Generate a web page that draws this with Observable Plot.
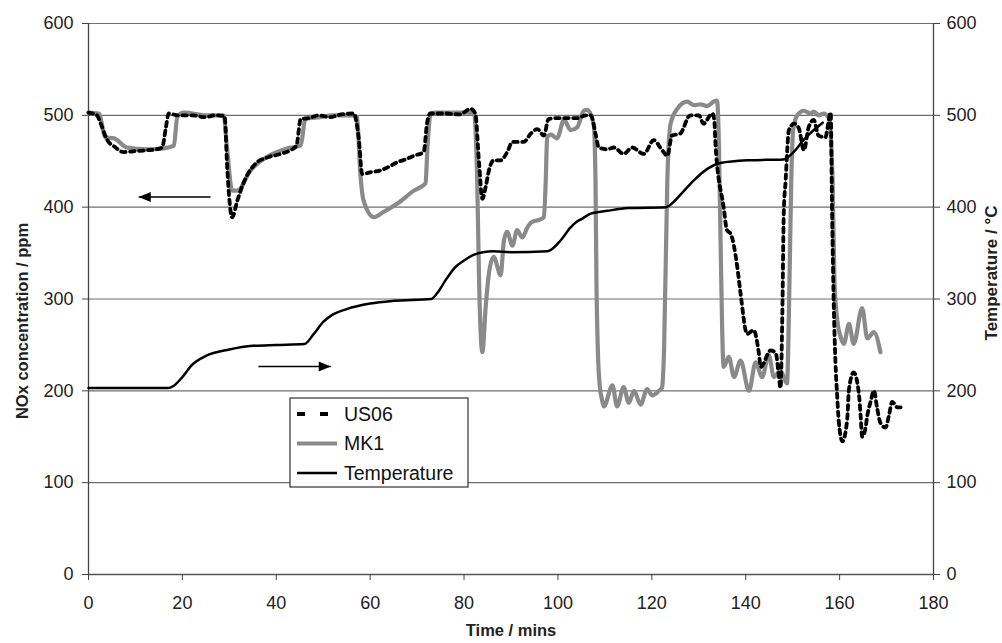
<!DOCTYPE html>
<html><head><meta charset="utf-8">
<script src="https://cdn.jsdelivr.net/npm/d3@7"></script>
<script src="https://cdn.jsdelivr.net/npm/@observablehq/plot@0.6"></script>
<style>
body{margin:0;background:#fff;}
#chart{position:relative;width:1002px;height:643px;}
</style>
</head><body><div id="chart"></div>
<script>
// ---- tick labels ----
const xTicks = [0,20,40,60,80,100,120,140,160,180];
const yTicks = [0,100,200,300,400,500,600];
const seriesNames = ["US06","MK1","Temperature"];
const axisTitles = {x: "Time / mins", yLeft: "NOx concentration / ppm", yRight: "Temperature / °C"};

// ---- US06 (NOx, ppm) ----
const us06Time = [0,1.8,2.6,4.0,5.5,7.5,10,12.5,14.5,15.7,16.4,17.1,19,22,25,27,29,29.5,29.9,30.6,31.7,33,35.7,38,40.9,43,44.3,45.2,47,49,51.6,53,56.5,57.6,58.3,60,62.2,64,65.8,67.5,69.3,71.4,72.1,72.8,76,79,81.4,82.4,83.2,83.9,84.6,85.3,86.3,87.8,89.2,90.3,92.7,94.2,95.6,97,98,100,104,106,107,108,108.7,110.5,111.9,114,115.8,118.3,120.4,122.2,123.3,124.3,126,128.2,130,131,132.9,133.3,133.6,135.3,136,136.8,138.2,138.9,140.3,141.7,142.8,143.2,145.3,146.4,147,147.4,147.8,148.1,148.5,149.2,150.3,151.3,152.4,153.4,154.5,155.5,157,157.4,158.1,158.4,158.8,159.1,159.5,159.8,160.6,161.6,162,163,163.8,164.2,164.5,164.8,165.5,165.9,166.6,167.3,168,168.7,169.8,170.5,171.2,172.3,173];
const us06NOx  = [503,500,491,473,466,460,461,462,463,465,484,502,500,500,498,500,499,448,415,389,407,426,448,454,458,462,467,496,497,500,498,500,502,473,436,438,440,444,449,452,456,460,491,502,502,501,507,502,448,409,422,440,451,451,460,471,471,480,485,478,496,497,497,500,500,480,465,463,465,458,465,458,473,462,456,478,480,500,500,491,502,495,465,400,375,371,335,306,262,266,241,226,244,241,219,203,284,393,429,484,491,486,462,487,495,478,476,486,503,393,284,233,193,168,145,168,202,220,208,192,171,150,159,173,188,200,181,165,160,173,188,182,182];

// ---- MK1 (NOx, ppm) ----
const mk1Time = [0,2.2,3.6,5.4,8.2,12.5,16,18.2,18.9,20.3,25.3,28.8,29.5,30.6,31.7,34.5,38.1,42.3,45.2,46.2,49.4,52,56.5,57.2,57.9,58.6,60.8,62.9,65.8,69.3,71.8,72.2,72.9,74,82.1,82.8,83.2,83.9,84.6,85.3,86.3,87.8,88.5,89.2,90.3,91.3,92.4,93.5,94.5,95.9,97,97.4,97.7,98.5,99.8,101.3,102.7,104.1,105.5,106.2,107.6,108,108.2,108.5,108.9,109.4,109.8,111.6,112.6,114,115.1,116.2,117.6,119,120.1,121.5,122.2,122.6,123.3,124,125.4,127.5,129,130.4,131.8,133.2,133.9,134.3,134.6,135.3,136.4,137.5,138.9,140.7,142.1,143.5,144.9,146,147.4,148.8,149.2,149.7,150.1,151,152.4,153.8,154.5,155.6,156.6,157.7,158.5,158.9,159.5,160.2,160.9,162,163,164.8,165.9,167.3,168.7];
const mk1NOx  = [503,502,476,475,465,463,464,467,498,503,500,500,465,418,418,440,455,464,467,496,498,500,500,498,437,407,389,395,404,418,426,465,502,503,503,429,320,242,291,328,346,326,364,373,358,375,367,378,384,386,389,429,476,479,475,495,484,487,505,506,491,429,320,244,206,190,183,206,183,204,187,200,185,202,195,200,204,244,429,491,507,515,511,512,510,515,516,465,375,226,237,215,233,200,231,215,239,215,222,208,284,429,484,500,505,502,504,500,502,497,429,320,277,259,251,273,251,290,257,264,242];

// ---- Temperature (°C) ----
const tempTime = [0,17,18,20,22,25,30,35,40,46,48,50,52,55,60,65,73,74.5,76,78,80,82,84,86.3,90,97.8,100.6,102.7,104,105,107,110.5,115,123,124.5,126,128.9,131.9,134.6,140.4,148,150.2,152.3,154.5,156.4];
const tempC    = [203,203,205,215,228,238,245,249,250,251,262,275,283,289,295,298,300,308,320,334,342,348,351,352,351,352,364,378,384,387,393,396,399,400,405,413,429,442,448,451,452,460,473,484,492];

// ---- direction arrows (data units) ----
const arrowFromT = [26, 36.2];
const arrowToT   = [10.7, 51.6];
const arrowLevel = [411, 226.6];

const rows = (ts, vs) => ts.map((t, i) => ({t, v: vs[i]}));
const us06 = rows(us06Time, us06NOx);
const mk1 = rows(mk1Time, mk1NOx);
const temp = rows(tempTime, tempC);
const arrows = arrowFromT.map((a, i) => ({x1: a, x2: arrowToT[i], y: arrowLevel[i], dir: arrowToT[i] < a ? "left" : "right"}));

const headLeft = {draw(c){ c.moveTo(0,0); c.lineTo(12,-5); c.lineTo(12,5); c.closePath(); }};
const headRight = {draw(c){ c.moveTo(0,0); c.lineTo(-12,-5); c.lineTo(-12,5); c.closePath(); }};

const font = "'Liberation Sans', Arial, sans-serif";
const plot = Plot.plot({
  width: 1002, height: 643,
  marginLeft: 88, marginRight: 69, marginTop: 23, marginBottom: 69,
  x: {domain: [0, 180]},
  y: {domain: [0, 600]},
  style: {fontFamily: font, fontSize: "18px", color: "#222", background: "#fff"},
  marks: [
    Plot.ruleY(yTicks.filter(d => d > 0), {stroke: "#6e6e6e", strokeWidth: 1.2}),
    Plot.ruleY([0], {stroke: "#555", strokeWidth: 1.5}),
    Plot.ruleX([0, 180], {stroke: "#444", strokeWidth: 1.3}),
    Plot.axisY({anchor: "left", ticks: yTicks, tickSize: 6, tickPadding: 9, label: null, stroke: "#444"}),
    Plot.axisY({anchor: "right", ticks: yTicks, tickSize: 6, tickPadding: 7, label: null, stroke: "#444"}),
    Plot.axisX({ticks: xTicks, tickSize: 6, tickPadding: 16, label: null, stroke: "#444"}),
    Plot.text([axisTitles.yLeft], {text: d => d, frameAnchor: "left", textAnchor: "middle", rotate: -90, dx: -66, dy: 22, fontWeight: "bold", fontSize: 16.5}),
    Plot.text([axisTitles.yRight], {text: d => d, frameAnchor: "right", textAnchor: "middle", rotate: -90, dx: 58, dy: -26, fontWeight: "bold", fontSize: 17}),
    Plot.text([axisTitles.x], {text: d => d, frameAnchor: "bottom", dy: 61, fontWeight: "bold", fontSize: 16.5}),
    Plot.line(mk1, {x: "t", y: "v", stroke: "#8a8a8a", strokeWidth: 4.2, curve: "monotone-x"}),
    Plot.line(us06, {x: "t", y: "v", stroke: "#000", strokeWidth: 3.8, strokeDasharray: "4.5,4.5", curve: "monotone-x"}),
    Plot.line(temp, {x: "t", y: "v", stroke: "#000", strokeWidth: 2.5, curve: "monotone-x"}),
    Plot.link(arrows, {x1: "x1", x2: "x2", y1: "y", y2: "y", stroke: "#000", strokeWidth: 1.5}),
    Plot.dot(arrows.filter(d => d.dir === "left"), {x: "x2", y: "y", symbol: headLeft, fill: "#000", stroke: null}),
    Plot.dot(arrows.filter(d => d.dir === "right"), {x: "x2", y: "y", symbol: headRight, fill: "#000", stroke: null})
  ]
});
document.getElementById("chart").append(plot);

// ---- legend (inside the plot frame) ----
const svg = d3.select(plot);
const lg = svg.append("g").attr("font-family", font).attr("font-size", 19.5).attr("fill", "#111").attr("text-anchor", "start");
const box = {x: 290, y: 398, w: 178, h: 89};
lg.append("rect").attr("x", box.x).attr("y", box.y).attr("width", box.w).attr("height", box.h)
  .attr("fill", "#fff").attr("stroke", "#333").attr("stroke-width", 1.2);
const styles = [
  {stroke: "#000", width: 4, dash: "8,15"},
  {stroke: "#8a8a8a", width: 4.2, dash: null},
  {stroke: "#000", width: 2.5, dash: null}
];
seriesNames.forEach((name, i) => {
  const cy = box.y + 16 + i * 29.5;
  const s = styles[i];
  const l = lg.append("line").attr("x1", box.x + 7).attr("x2", box.x + 47).attr("y1", cy).attr("y2", cy)
    .attr("stroke", s.stroke).attr("stroke-width", s.width);
  if (s.dash) l.attr("stroke-dasharray", s.dash);
  lg.append("text").attr("x", box.x + 54).attr("y", cy).attr("dy", "0.35em").attr("text-anchor", "start").text(name);
});
</script>
</body></html>
